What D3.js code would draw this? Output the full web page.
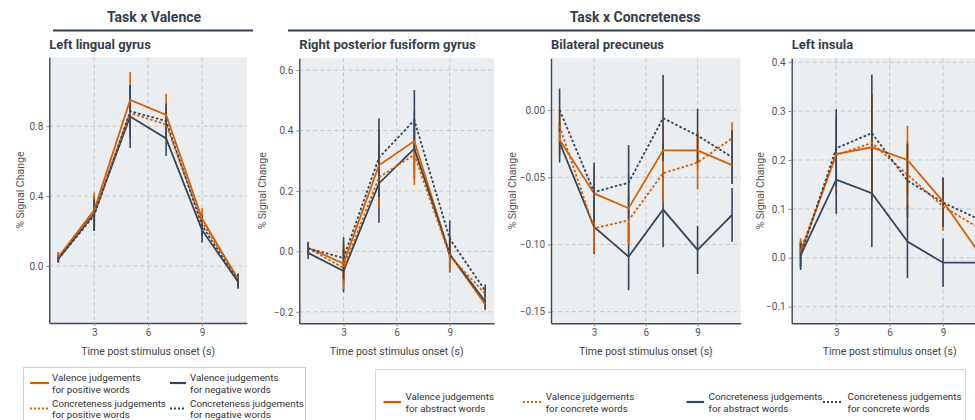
<!DOCTYPE html>
<html><head><meta charset="utf-8">
<script src="https://cdn.jsdelivr.net/npm/d3@7"></script>
<style>
body{margin:0;overflow:hidden;background:#fff}
svg{display:block;font-family:Roboto,'Noto Sans',sans-serif}
</style>
</head><body><svg id="c" width="975" height="420"></svg>
<script>
// ---------- data ----------
const timePoints = [1, 3, 5, 7, 9, 11];
const xTickValues = [3, 6, 9];

// Left lingual gyrus (Task x Valence)
const llgValPos    = [0.05, 0.32, 0.95, 0.865, 0.27, -0.075];
const llgValPosErr = [0.03, 0.10, 0.16, 0.12, 0.06, 0.03];
const llgValNeg    = [0.04, 0.30, 0.855, 0.73, 0.205, -0.09];
const llgValNegErr = [0.02, 0.10, 0.18, 0.10, 0.07, 0.04];
const llgConPos    = [0.05, 0.31, 0.875, 0.81, 0.25, -0.07];
const llgConPosErr = [0.03, 0.09, 0.12, 0.10, 0.05, 0.03];
const llgConNeg    = [0.04, 0.29, 0.885, 0.83, 0.23, -0.085];
const llgConNegErr = [0.02, 0.09, 0.15, 0.10, 0.06, 0.04];

// Right posterior fusiform gyrus (Task x Concreteness)
const rpfValAbs    = [0.012, -0.04, 0.285, 0.365, -0.01, -0.175];
const rpfValAbsErr = [0.02, 0.07, 0.12, 0.10, 0.05, 0.02];
const rpfValCon    = [0.01, -0.055, 0.245, 0.32, -0.015, -0.14];
const rpfValConErr = [0.02, 0.07, 0.10, 0.10, 0.05, 0.02];
const rpfConAbs    = [-0.005, -0.065, 0.225, 0.34, -0.01, -0.165];
const rpfConAbsErr = [0.02, 0.07, 0.13, 0.10, 0.06, 0.025];
const rpfConCon    = [0.01, -0.022, 0.31, 0.434, 0.042, -0.13];
const rpfConConErr = [0.02, 0.07, 0.13, 0.10, 0.06, 0.02];

// Bilateral precuneus
const bpValAbs    = [-0.022, -0.062, -0.073, -0.030, -0.030, -0.041];
const bpValAbsErr = [0.012, 0.020, 0.025, 0.020, 0.014, 0.014];
const bpValCon    = [-0.012, -0.088, -0.082, -0.047, -0.039, -0.021];
const bpValConErr = [0.012, 0.018, 0.018, 0.022, 0.020, 0.012];
const bpConAbs    = [-0.024, -0.087, -0.109, -0.074, -0.104, -0.078];
const bpConAbsErr = [0.015, 0.020, 0.025, 0.028, 0.018, 0.020];
const bpConCon    = [0.000, -0.061, -0.054, -0.006, -0.019, -0.035];
const bpConConErr = [0.016, 0.022, 0.028, 0.032, 0.020, 0.020];

// Left insula
const liValAbs    = [0.01, 0.212, 0.226, 0.20, 0.115, 0.011];
const liValAbsErr = [0.03, 0.08, 0.11, 0.07, 0.05, 0.04];
const liValCon    = [0.015, 0.21, 0.235, 0.17, 0.105, 0.061];
const liValConErr = [0.02, 0.07, 0.10, 0.07, 0.05, 0.04];
const liConAbs    = [0.005, 0.16, 0.132, 0.033, -0.01, -0.01];
const liConAbsErr = [0.03, 0.07, 0.11, 0.075, 0.05, 0.05];
const liConCon    = [0.005, 0.224, 0.255, 0.158, 0.113, 0.079];
const liConConErr = [0.025, 0.08, 0.12, 0.075, 0.05, 0.04];

const panelTitles = ["Left lingual gyrus", "Right posterior fusiform gyrus", "Bilateral precuneus", "Left insula"];
const groupTitles = ["Task x Valence", "Task x Concreteness"];
const yTicks1 = [0, 0.4, 0.8];
const yTicks2 = [-0.2, 0, 0.2, 0.4, 0.6];
const yTicks3 = [-0.15, -0.10, -0.05, 0.00];
const yTicks4 = [-0.1, 0, 0.1, 0.2, 0.3, 0.4];
const yAxisTitle = "% Signal Change";
const xAxisTitle = "Time post stimulus onset (s)";
const legendValence = [["Valence judgements", "for positive words"], ["Valence judgements", "for negative words"],
                       ["Concreteness judgements", "for positive words"], ["Concreteness judgements", "for negative words"]];
const legendConcreteness = [["Valence judgements", "for abstract words"], ["Valence judgements", "for concrete words"],
                            ["Concreteness judgements", "for abstract words"], ["Concreteness judgements", "for concrete words"]];

// ---------- style ----------
const ORANGE = "#d95f02", NAVY = "#36465a", INK = "#34404e";
const styles = [
  {color: ORANGE, dash: null},
  {color: NAVY, dash: null},
  {color: ORANGE, dash: "2.6,2"},
  {color: NAVY, dash: "2.6,2"}
];
// order per panel: [orange solid, navy solid, orange dotted, navy dotted]
const panels = [
  {x0: 49.3, x1: 247, y0: 57.3, y1: 323, yDom: [-0.326, 1.194], ticks: yTicks1, fmt: d3.format(".1f"), ylabX: 20,
   series: [[llgValPos, llgValPosErr], [llgValNeg, llgValNegErr], [llgConPos, llgConPosErr], [llgConNeg, llgConNegErr]]},
  {x0: 299.3, x1: 494, y0: 58.3, y1: 323.3, yDom: [-0.238, 0.639], ticks: yTicks2, fmt: d3.format(".1f"), ylabX: 262,
   series: [[rpfValAbs, rpfValAbsErr], [rpfConAbs, rpfConAbsErr], [rpfValCon, rpfValConErr], [rpfConCon, rpfConConErr]]},
  {x0: 551, x1: 740.7, y0: 58.3, y1: 323.3, yDom: [-0.1586, 0.0385], ticks: yTicks3, fmt: d3.format(".2f"), ylabX: 512,
   series: [[bpValAbs, bpValAbsErr], [bpConAbs, bpConAbsErr], [bpValCon, bpValConErr], [bpConCon, bpConConErr]]},
  {x0: 791.7, x1: 987.6, y0: 58.3, y1: 323.3, yDom: [-0.134, 0.408], ticks: yTicks4, fmt: d3.format(".1f"), ylabX: 760,
   series: [[liValAbs, liValAbsErr], [liConAbs, liConAbsErr], [liValCon, liValConErr], [liConCon, liConConErr]]}
];

const svg = d3.select("#c");

// group headers
svg.append("text").attr("x", 154).attr("y", 22).attr("text-anchor", "middle")
  .attr("font-size", 14).attr("font-weight", 700).attr("fill", INK).text(groupTitles[0]);
svg.append("line").attr("x1", 53).attr("x2", 253).attr("y1", 30.5).attr("y2", 30.5)
  .attr("stroke", INK).attr("stroke-width", 2);
svg.append("text").attr("x", 635).attr("y", 22).attr("text-anchor", "middle")
  .attr("font-size", 14).attr("font-weight", 700).attr("fill", INK).text(groupTitles[1]);
svg.append("line").attr("x1", 288).attr("x2", 980).attr("y1", 30.5).attr("y2", 30.5)
  .attr("stroke", INK).attr("stroke-width", 2);

panels.forEach((p, i) => {
  const x = d3.scaleLinear().domain([0.5, 11.5]).range([p.x0, p.x1]);
  const y = d3.scaleLinear().domain(p.yDom).range([p.y1, p.y0]);
  const g = svg.append("g");
  const cid = "clip" + i;
  svg.append("clipPath").attr("id", cid).append("rect")
    .attr("x", p.x0).attr("y", p.y0).attr("width", p.x1 - p.x0).attr("height", p.y1 - p.y0);

  g.append("rect").attr("x", p.x0).attr("y", p.y0).attr("width", p.x1 - p.x0).attr("height", p.y1 - p.y0)
    .attr("fill", "#ebeef0");
  // grid
  const grid = g.append("g").attr("stroke", "#c4c6c8").attr("stroke-width", 1).attr("stroke-dasharray", "4,3");
  xTickValues.forEach(t => grid.append("line").attr("x1", x(t)).attr("x2", x(t)).attr("y1", p.y0).attr("y2", p.y1));
  p.ticks.forEach(t => grid.append("line").attr("x1", p.x0).attr("x2", p.x1).attr("y1", y(t)).attr("y2", y(t)));

  const data = g.append("g").attr("clip-path", `url(#${cid})`);
  p.series.forEach(([vals, errs], k) => {
    const st = styles[k];
    data.append("g").selectAll("line").data(timePoints).join("line")
      .attr("x1", (d) => x(d)).attr("x2", (d) => x(d))
      .attr("y1", (d, j) => y(vals[j] - errs[j])).attr("y2", (d, j) => y(vals[j] + errs[j]))
      .attr("stroke", st.color).attr("stroke-width", 1.6);
  });
  p.series.forEach(([vals, errs], k) => {
    const st = styles[k];
    const line = d3.line().x((d) => x(d)).y((d, j) => y(vals[j]));
    data.append("path").attr("d", line(timePoints)).attr("fill", "none")
      .attr("stroke", st.color).attr("stroke-width", 1.8)
      .attr("stroke-dasharray", st.dash);
  });

  // axes
  const ax = g.append("g").attr("transform", `translate(0,${p.y1})`)
    .call(d3.axisBottom(x).tickValues(xTickValues).tickSize(3).tickSizeOuter(0).tickPadding(3));
  const ay = g.append("g").attr("transform", `translate(${p.x0},0)`)
    .call(d3.axisLeft(y).tickValues(p.ticks).tickFormat(p.fmt).tickSize(3).tickSizeOuter(0).tickPadding(3));
  [ax, ay].forEach(a => {
    a.select(".domain").attr("stroke", "#3d4957").attr("stroke-width", 1.4);
    a.selectAll(".tick line").attr("stroke", "#888");
    a.selectAll(".tick text").attr("fill", "#555").attr("font-size", 10)
      .attr("font-family", "Roboto,'Noto Sans',sans-serif");
  });

  // titles
  svg.append("text").attr("x", p.x0).attr("y", 49).attr("font-size", 13).attr("font-weight", 700)
    .attr("fill", INK).text(panelTitles[i]);
  svg.append("text").attr("transform", `translate(${p.ylabX},${(p.y0 + p.y1) / 2}) rotate(-90)`)
    .attr("text-anchor", "middle").attr("dominant-baseline", "central")
    .attr("font-size", 10.5).attr("fill", "#555").text(yAxisTitle);
  svg.append("text").attr("x", (p.x0 + p.x1) / 2).attr("y", 354.5)
    .attr("text-anchor", "middle").attr("font-size", 10.5).attr("fill", "#444").text(xAxisTitle);
});

// ---------- legends ----------
function legendItem(g, sx0, sx1, sy, tx, ty1, ty2, st, labels) {
  g.append("line").attr("x1", sx0).attr("x2", sx1).attr("y1", sy).attr("y2", sy)
    .attr("stroke", st.color).attr("stroke-width", 2.2).attr("stroke-dasharray", st.dash ? "2,2" : null);
  g.append("text").attr("x", tx).attr("y", ty1).attr("dominant-baseline", "central")
    .attr("font-size", 9.8).attr("fill", "#333").text(labels[0]);
  g.append("text").attr("x", tx).attr("y", ty2).attr("dominant-baseline", "central")
    .attr("font-size", 9.8).attr("fill", "#333").text(labels[1]);
}
const lg1 = svg.append("g");
lg1.append("rect").attr("x", 23.5).attr("y", 367.5).attr("width", 282).attr("height", 70)
  .attr("fill", "#fff").attr("stroke", "#d0d0d0");
legendItem(lg1, 30, 49, 383, 52, 377.5, 389, styles[0], legendValence[0]);
legendItem(lg1, 170, 186, 383, 190, 377.5, 389, styles[1], legendValence[1]);
legendItem(lg1, 30, 49, 408.5, 52, 403, 414, styles[2], legendValence[2]);
legendItem(lg1, 170, 186, 408.5, 190, 403, 414, styles[3], legendValence[3]);

const lg2 = svg.append("g");
lg2.append("rect").attr("x", 375.5).attr("y", 369.5).attr("width", 590).attr("height", 70)
  .attr("fill", "#fff").attr("stroke", "#d8d8d8");
legendItem(lg2, 383.5, 401, 402, 405.5, 396.5, 408, styles[0], legendConcreteness[0]);
legendItem(lg2, 523, 542, 402, 545.7, 396.5, 408, styles[2], legendConcreteness[1]);
legendItem(lg2, 686.5, 704, 402, 708.6, 396.5, 408, styles[1], legendConcreteness[2]);
legendItem(lg2, 823, 843, 402, 847.6, 396.5, 408, styles[3], legendConcreteness[3]);
</script></body></html>
